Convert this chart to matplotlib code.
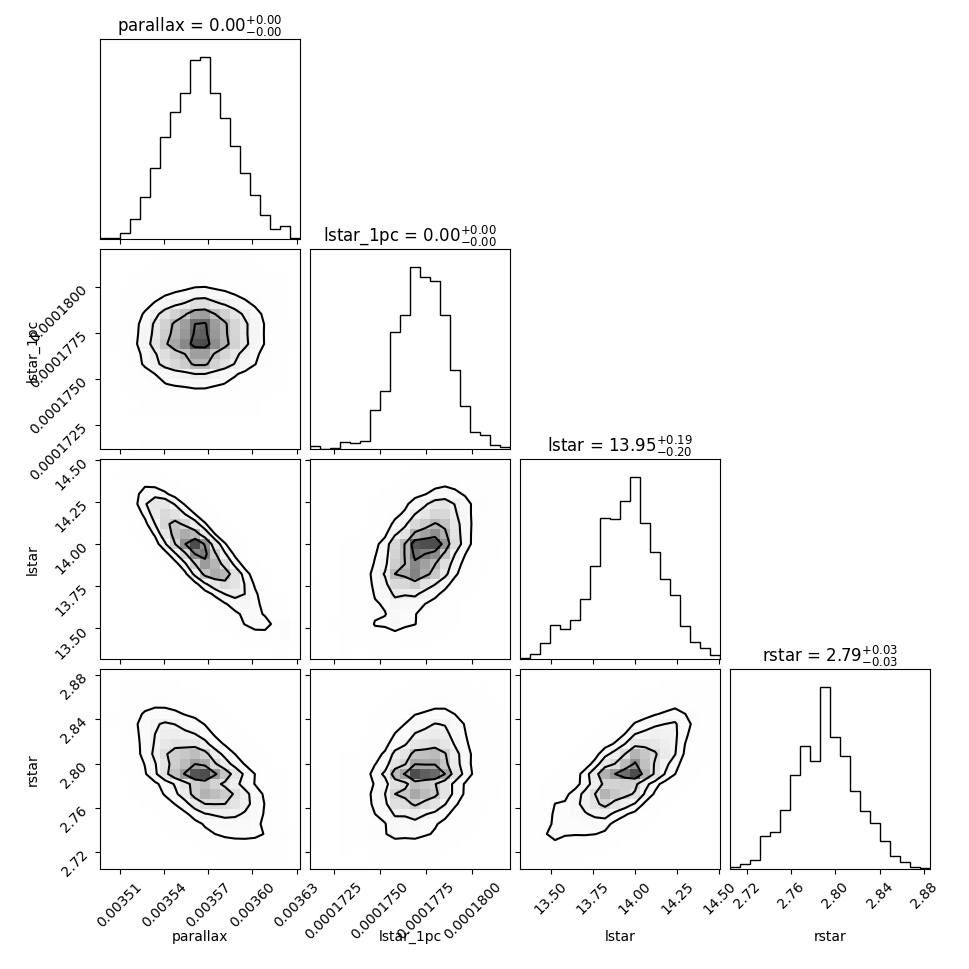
import numpy as np
import matplotlib
matplotlib.use("Agg")
import matplotlib.pyplot as plt
from matplotlib.colors import LinearSegmentedColormap

# parameter names and the titles shown above the diagonal panels
LABELS = ["parallax", "lstar_1pc", "lstar", "rstar"]
TITLES = [
    r"parallax = $0.00_{-0.00}^{+0.00}$",
    r"lstar_1pc = $0.00_{-0.00}^{+0.00}$",
    r"lstar = $13.95_{-0.20}^{+0.19}$",
    r"rstar = $2.79_{-0.03}^{+0.03}$",
]

# sample ranges (min, max)
RANGE_PARALLAX = (0.0034965, 0.0036323)
RANGE_LSTAR_1PC = (0.00017122, 0.00018204)
RANGE_LSTAR = (13.319, 14.504)
RANGE_RSTAR = (2.7050, 2.8851)

# 1D histogram counts (20 bins)
HIST_PARALLAX = [3, 3, 17, 59, 125, 211, 305, 379, 436, 534,
                 542, 434, 361, 276, 197, 131, 71, 29, 40, 3]
HIST_LSTAR_1PC = [8, 1, 2, 21, 17, 25, 116, 174, 350, 402,
                  545, 516, 504, 402, 236, 128, 52, 43, 11, 7]
HIST_LSTAR = [4, 14, 47, 101, 89, 116, 179, 277, 422, 418,
              472, 544, 407, 320, 239, 192, 98, 52, 32, 13]
HIST_RSTAR = [7, 14, 27, 98, 111, 176, 281, 369, 323, 545,
              397, 339, 233, 175, 138, 84, 40, 20, 7, 2]

# tick positions and labels
TICKS_PARALLAX = [0.00351, 0.00354, 0.00357, 0.00360, 0.00363]
TICKLABELS_PARALLAX = ["0.00351", "0.00354", "0.00357", "0.00360", "0.00363"]
TICKS_LSTAR_1PC = [0.0001725, 0.0001750, 0.0001775, 0.0001800]
TICKLABELS_LSTAR_1PC = ["0.0001725", "0.0001750", "0.0001775", "0.0001800"]
TICKS_LSTAR = [13.50, 13.75, 14.00, 14.25, 14.50]
TICKLABELS_LSTAR = ["13.50", "13.75", "14.00", "14.25", "14.50"]
TICKS_RSTAR = [2.72, 2.76, 2.80, 2.84, 2.88]
TICKLABELS_RSTAR = ["2.72", "2.76", "2.80", "2.84", "2.88"]

# correlation seen in each 2D panel (row, col)
CORR_PAIRS = [(1, 0), (2, 0), (2, 1), (3, 0), (3, 1), (3, 2)]
CORR_VALUES = [0.05, -0.86, 0.5, -0.6, 0.3, 0.72]

ranges = [RANGE_PARALLAX, RANGE_LSTAR_1PC, RANGE_LSTAR, RANGE_RSTAR]
hists = [np.array(h, float) for h in (HIST_PARALLAX, HIST_LSTAR_1PC, HIST_LSTAR, HIST_RSTAR)]
ticks = [TICKS_PARALLAX, TICKS_LSTAR_1PC, TICKS_LSTAR, TICKS_RSTAR]
ticklabels = [TICKLABELS_PARALLAX, TICKLABELS_LSTAR_1PC, TICKLABELS_LSTAR, TICKLABELS_RSTAR]
corr = dict(zip(CORR_PAIRS, CORR_VALUES))

K = len(LABELS)
NBINS = 20
edges = [np.linspace(r[0], r[1], NBINS + 1) for r in ranges]
centers = [0.5 * (e[1:] + e[:-1]) for e in edges]


def standardized(k):
    w = hists[k] / hists[k].sum()
    m = np.sum(w * centers[k])
    s = np.sqrt(np.sum(w * (centers[k] - m) ** 2))
    return (centers[k] - m) / s


def joint_hist(i, j):
    # joint counts from the two marginals tied by a gaussian copula
    r = corr[(i, j)]
    a = standardized(j)[:, None]
    b = standardized(i)[None, :]
    cop = np.exp(-(r ** 2 * (a ** 2 + b ** 2) - 2 * r * a * b) / (2 * (1 - r ** 2)))
    H = hists[j][:, None] * hists[i][None, :] * cop
    return H / H.sum() * hists[j].sum()  # shape (x bins, y bins)


levels = 1.0 - np.exp(-0.5 * np.arange(0.5, 2.1, 0.5) ** 2)
density_cmap = LinearSegmentedColormap.from_list("density_cmap", [(1, 1, 1, 0), "k"])
white_cmap = LinearSegmentedColormap.from_list("white_cmap", [(1, 1, 1), (1, 1, 1)], N=2)

fig, axes = plt.subplots(K, K, figsize=(9.7, 9.7), dpi=100)
lb = 1.0 / 9.7
tr = 9.3 / 9.7
fig.subplots_adjust(left=lb, bottom=lb, right=tr, top=tr, wspace=0.05, hspace=0.05)

for i in range(K):
    for j in range(K):
        ax = axes[i, j]
        if j > i:
            ax.set_frame_on(False)
            ax.set_xticks([])
            ax.set_yticks([])
            continue

        if i == j:
            ax.hist(centers[i], bins=edges[i], weights=hists[i], histtype="step",
                    color="k", linewidth=1.0)
            ax.set_xlim(ranges[i])
            ax.set_ylim(0, 1.1 * hists[i].max())
            ax.set_yticks([])
            ax.set_title(TITLES[i], fontsize=12)
        else:
            H = joint_hist(i, j)
            Hflat = np.sort(H.flatten())[::-1]
            sm = np.cumsum(Hflat)
            sm /= sm[-1]
            V = np.array([Hflat[sm <= v][-1] if np.any(sm <= v) else Hflat[0] for v in levels])
            V.sort()

            X1, Y1 = centers[j], centers[i]
            ax.contourf(X1, Y1, H.T, [V.min(), H.max()], cmap=white_cmap, antialiased=False)
            ax.pcolormesh(edges[j], edges[i], H.T, cmap=density_cmap, shading="flat",
                          vmin=0, vmax=1.2 * H.max())
            ax.contour(X1, Y1, H.T, V, colors="k", linewidths=1.5)
            ax.set_xlim(ranges[j])
            ax.set_ylim(ranges[i])

            ax.set_yticks(ticks[i])
            if j == 0:
                ax.set_yticklabels(ticklabels[i], rotation=45)
                ax.set_ylabel(LABELS[i])
                ax.yaxis.set_label_coords(-0.3, 0.5)
            else:
                ax.set_yticklabels([])

        ax.set_xticks(ticks[j])
        if i == K - 1:
            ax.set_xticklabels(ticklabels[j], rotation=45)
            ax.set_xlabel(LABELS[j])
            ax.xaxis.set_label_coords(0.5, -0.3)
        else:
            ax.set_xticklabels([])
        ax.set_xlim(ranges[j])

fig.savefig("out.png", dpi=100)
